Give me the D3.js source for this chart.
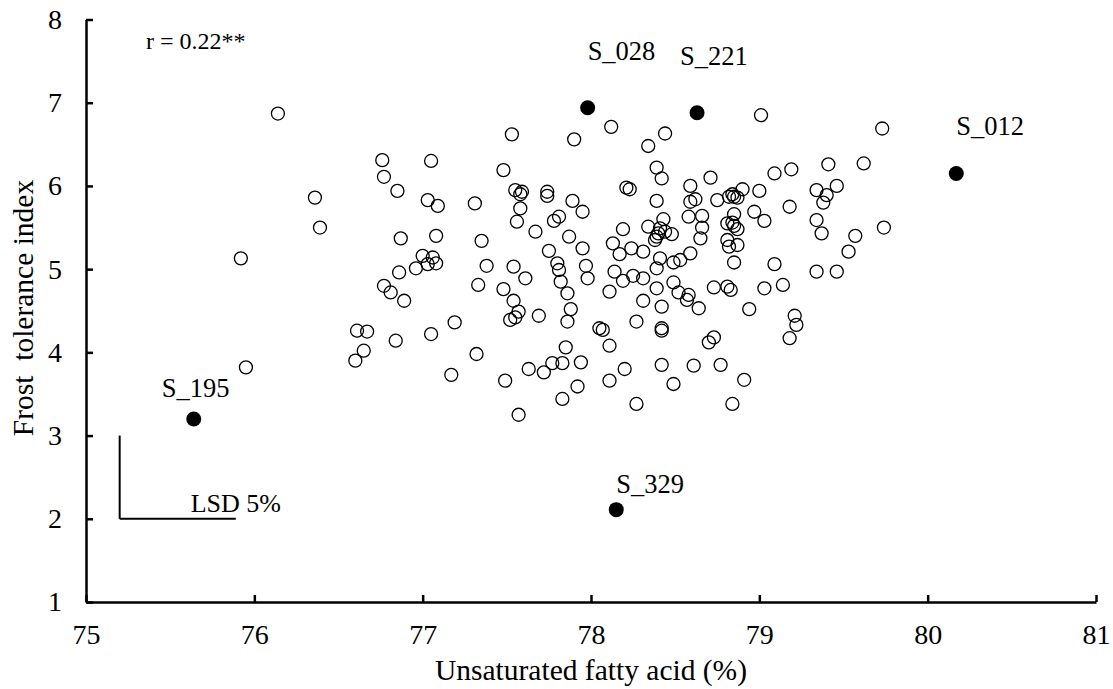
<!DOCTYPE html>
<html>
<head>
<meta charset="utf-8">
<script src="https://cdn.jsdelivr.net/npm/d3@7"></script>
<style>
  body { margin: 0; background: #fff; }
  svg text { font-family: "Liberation Serif", "Times New Roman", serif; fill: #000; }
  .axis path, .axis line { stroke: #000; stroke-width: 2.5px; }
  .axis text { font-size: 28px; font-family: "Liberation Serif", serif; }
</style>
</head>
<body>
<div id="holder"></div>
<script>
// open circles: unsaturated fatty acid (%) vs frost tolerance index
var fattyAcid = [
  76.14, 76.76, 77.05, 76.77, 76.85, 76.36, 77.03, 77.09, 77.31, 76.39,
  76.87, 77.08, 77.35, 77.48, 77.00, 77.06, 77.03, 77.08, 76.96, 76.86,
  77.38, 76.77, 76.81, 76.89, 77.33, 77.19, 76.61, 76.67, 77.05, 76.84,
  76.65, 76.60, 77.32, 77.17, 78.12, 78.44, 77.53, 77.90, 78.34, 78.39,
  78.42, 78.59, 78.21, 78.23, 77.55, 77.59, 77.58, 77.74, 77.74, 77.89,
  78.39, 78.59, 77.58, 77.95, 77.81, 77.78, 77.56, 78.58, 78.34, 78.43,
  78.19, 77.67, 78.41, 78.40, 78.39, 78.38, 78.44, 78.48, 77.87, 78.13,
  77.75, 77.95, 78.24, 78.31, 78.59, 78.17, 78.41, 78.49, 78.53, 77.54,
  77.80, 77.81, 77.97, 78.14, 78.39, 77.61, 77.98, 78.19, 78.25, 78.31,
  77.82, 78.49, 77.48, 77.86, 78.11, 78.39, 78.52, 78.58, 78.57, 77.54,
  78.31, 77.88, 78.42, 77.57, 77.55, 77.52, 77.69, 77.86, 78.27, 78.05,
  78.07, 78.42, 78.42, 77.85, 78.11, 77.77, 77.83, 77.94, 77.63, 77.72,
  78.20, 78.42, 78.61, 77.49, 77.92, 78.11, 78.49, 77.83, 77.57, 78.27,
  79.01, 79.73, 79.41, 79.62, 78.71, 79.09, 79.19, 79.46, 79.34, 79.40,
  79.38, 78.90, 79.00, 78.82, 78.85, 78.87, 78.84, 78.75, 78.62, 79.18,
  78.97, 79.03, 78.66, 78.85, 78.81, 78.84, 78.85, 78.87, 78.66, 78.65,
  79.34, 79.37, 79.57, 79.74, 78.81, 78.82, 78.87, 79.53, 78.85, 79.09,
  79.34, 79.46, 78.73, 78.81, 78.83, 79.03, 79.14, 78.64, 78.94, 79.21,
  79.22, 79.18, 78.73, 78.70, 78.77, 78.91, 78.84, 75.92, 75.95
];
var frostIndex = [
  6.87, 6.31, 6.30, 6.11, 5.94, 5.86, 5.83, 5.76, 5.79, 5.50,
  5.37, 5.40, 5.34, 6.19, 5.16, 5.14, 5.06, 5.07, 5.01, 4.96,
  5.04, 4.80, 4.72, 4.62, 4.81, 4.36, 4.26, 4.25, 4.22, 4.14,
  4.02, 3.90, 3.98, 3.73, 6.71, 6.63, 6.62, 6.56, 6.48, 6.22,
  6.09, 6.00, 5.98, 5.96, 5.95, 5.93, 5.90, 5.93, 5.88, 5.82,
  5.82, 5.81, 5.73, 5.69, 5.63, 5.58, 5.57, 5.63, 5.51, 5.60,
  5.48, 5.45, 5.49, 5.43, 5.39, 5.35, 5.45, 5.42, 5.39, 5.31,
  5.22, 5.25, 5.25, 5.21, 5.19, 5.18, 5.13, 5.08, 5.11, 5.03,
  5.07, 4.99, 5.04, 4.97, 5.01, 4.89, 4.89, 4.86, 4.92, 4.89,
  4.85, 4.84, 4.76, 4.71, 4.73, 4.77, 4.72, 4.69, 4.63, 4.62,
  4.62, 4.52, 4.55, 4.49, 4.42, 4.39, 4.44, 4.37, 4.37, 4.29,
  4.27, 4.29, 4.26, 4.06, 4.08, 3.87, 3.87, 3.88, 3.80, 3.76,
  3.80, 3.85, 3.84, 3.66, 3.59, 3.66, 3.62, 3.44, 3.25, 3.38,
  6.85, 6.69, 6.26, 6.27, 6.10, 6.15, 6.20, 6.00, 5.95, 5.89,
  5.80, 5.96, 5.94, 5.87, 5.87, 5.86, 5.90, 5.83, 5.84, 5.75,
  5.69, 5.58, 5.64, 5.66, 5.55, 5.56, 5.52, 5.48, 5.50, 5.37,
  5.59, 5.43, 5.40, 5.50, 5.35, 5.27, 5.29, 5.21, 5.08, 5.06,
  4.97, 4.97, 4.78, 4.79, 4.75, 4.77, 4.81, 4.53, 4.52, 4.44,
  4.33, 4.17, 4.18, 4.12, 3.85, 3.67, 3.38, 5.13, 3.82
];

// highlighted samples (filled)
var sampleNames = ['S_028', 'S_221', 'S_012', 'S_195', 'S_329'];
var sampleFatty = [77.98, 78.63, 80.17, 75.64, 78.15];
var sampleFrost = [6.94, 6.88, 6.15, 3.20, 2.11];

var xTicks = [75, 76, 77, 78, 79, 80, 81];
var yTicks = [1, 2, 3, 4, 5, 6, 7, 8];

// LSD 5% bars: origin and lengths
var lsdOrigin = [75.2, 2];
var lsdFatty = 0.69;
var lsdFrost = 1.0;
var rText = 'r = 0.22**';

function generateScatter() {
  var fullWidth = 1113;
  var fullHeight = 689;
  var margin = {top: 19.5, right: 17, bottom: 87, left: 86};
  var width = fullWidth - margin.left - margin.right;
  var height = fullHeight - margin.top - margin.bottom;

  var svg = d3.select('#holder').append('svg')
    .attr('width', fullWidth)
    .attr('height', fullHeight)
    .append('g')
    .attr('transform', 'translate(' + margin.left + ',' + margin.top + ')');

  var xScale = d3.scaleLinear().domain([75, 81]).range([0, width]);
  var yScale = d3.scaleLinear().domain([1, 8]).range([height, 0]);

  var xaxis = d3.axisBottom(xScale).tickValues(xTicks)
    .tickSizeInner(-7).tickSizeOuter(0).tickPadding(22)
    .tickFormat(d3.format('d'));
  var yaxis = d3.axisLeft(yScale).tickValues(yTicks)
    .tickSizeInner(-7).tickSizeOuter(0).tickPadding(24)
    .tickFormat(d3.format('d'));

  svg.append('g').classed('x axis', true)
    .attr('transform', 'translate(0,' + height + ')')
    .call(xaxis);
  svg.append('g').classed('y axis', true)
    .call(yaxis);

  // open circles
  var pts = fattyAcid.map(function(f, i) { return {x: f, y: frostIndex[i]}; });
  svg.append('g').selectAll('circle.pt')
      .data(pts)
    .enter().append('circle')
      .classed('pt', true)
      .attr('cx', function(d) { return xScale(d.x); })
      .attr('cy', function(d) { return yScale(d.y); })
      .attr('r', 6.5)
      .attr('fill', 'none')
      .attr('stroke', '#000')
      .attr('stroke-width', 1.3);

  // filled samples
  var samples = sampleNames.map(function(n, i) {
    return {name: n, x: sampleFatty[i], y: sampleFrost[i]};
  });
  // label offsets in px relative to the dot
  var labelPos = {
    S_028: {dx: 0, dy: -48, anchor: 'start'},
    S_221: {dx: -17, dy: -48, anchor: 'start'},
    S_012: {dx: 0, dy: -38, anchor: 'start'},
    S_195: {dx: 2, dy: -22, anchor: 'middle'},
    S_329: {dx: 0, dy: -17, anchor: 'start'}
  };
  var sg = svg.append('g');
  sg.selectAll('circle.sample')
      .data(samples)
    .enter().append('circle')
      .classed('sample', true)
      .attr('cx', function(d) { return xScale(d.x); })
      .attr('cy', function(d) { return yScale(d.y); })
      .attr('r', 7.5)
      .attr('fill', '#000');
  sg.selectAll('text.lbl')
      .data(samples)
    .enter().append('text')
      .classed('lbl', true)
      .attr('x', function(d) { return xScale(d.x) + labelPos[d.name].dx; })
      .attr('y', function(d) { return yScale(d.y) + labelPos[d.name].dy; })
      .attr('text-anchor', function(d) { return labelPos[d.name].anchor; })
      .style('font-size', '26.5px')
      .text(function(d) { return d.name; });

  // LSD bars
  var lsd = svg.append('g').attr('stroke', '#000').attr('stroke-width', 2);
  lsd.append('line')
    .attr('x1', xScale(lsdOrigin[0])).attr('x2', xScale(lsdOrigin[0]))
    .attr('y1', yScale(lsdOrigin[1])).attr('y2', yScale(lsdOrigin[1] + lsdFrost));
  lsd.append('line')
    .attr('x1', xScale(lsdOrigin[0])).attr('x2', xScale(lsdOrigin[0] + lsdFatty))
    .attr('y1', yScale(lsdOrigin[1])).attr('y2', yScale(lsdOrigin[1]));
  svg.append('text')
    .attr('x', xScale(lsdOrigin[0]) + 71)
    .attr('y', yScale(lsdOrigin[1]) - 7)
    .style('font-size', '26px')
    .text('LSD 5%');

  svg.append('text')
    .attr('x', 60)
    .attr('y', 29)
    .style('font-size', '24px')
    .text(rText);

  // axis titles
  svg.append('text')
    .attr('x', width / 2)
    .attr('y', height + 78)
    .attr('text-anchor', 'middle')
    .style('font-size', '29.5px')
    .text('Unsaturated fatty acid (%)');
  svg.append('text')
    .attr('transform', 'translate(' + (-53) + ',' + (308 - margin.top) + ') rotate(-90)')
    .attr('text-anchor', 'middle')
    .style('font-size', '29.5px')
    .style('white-space', 'pre')
    .text('Frost  tolerance index');
}

generateScatter();
</script>
</body>
</html>
